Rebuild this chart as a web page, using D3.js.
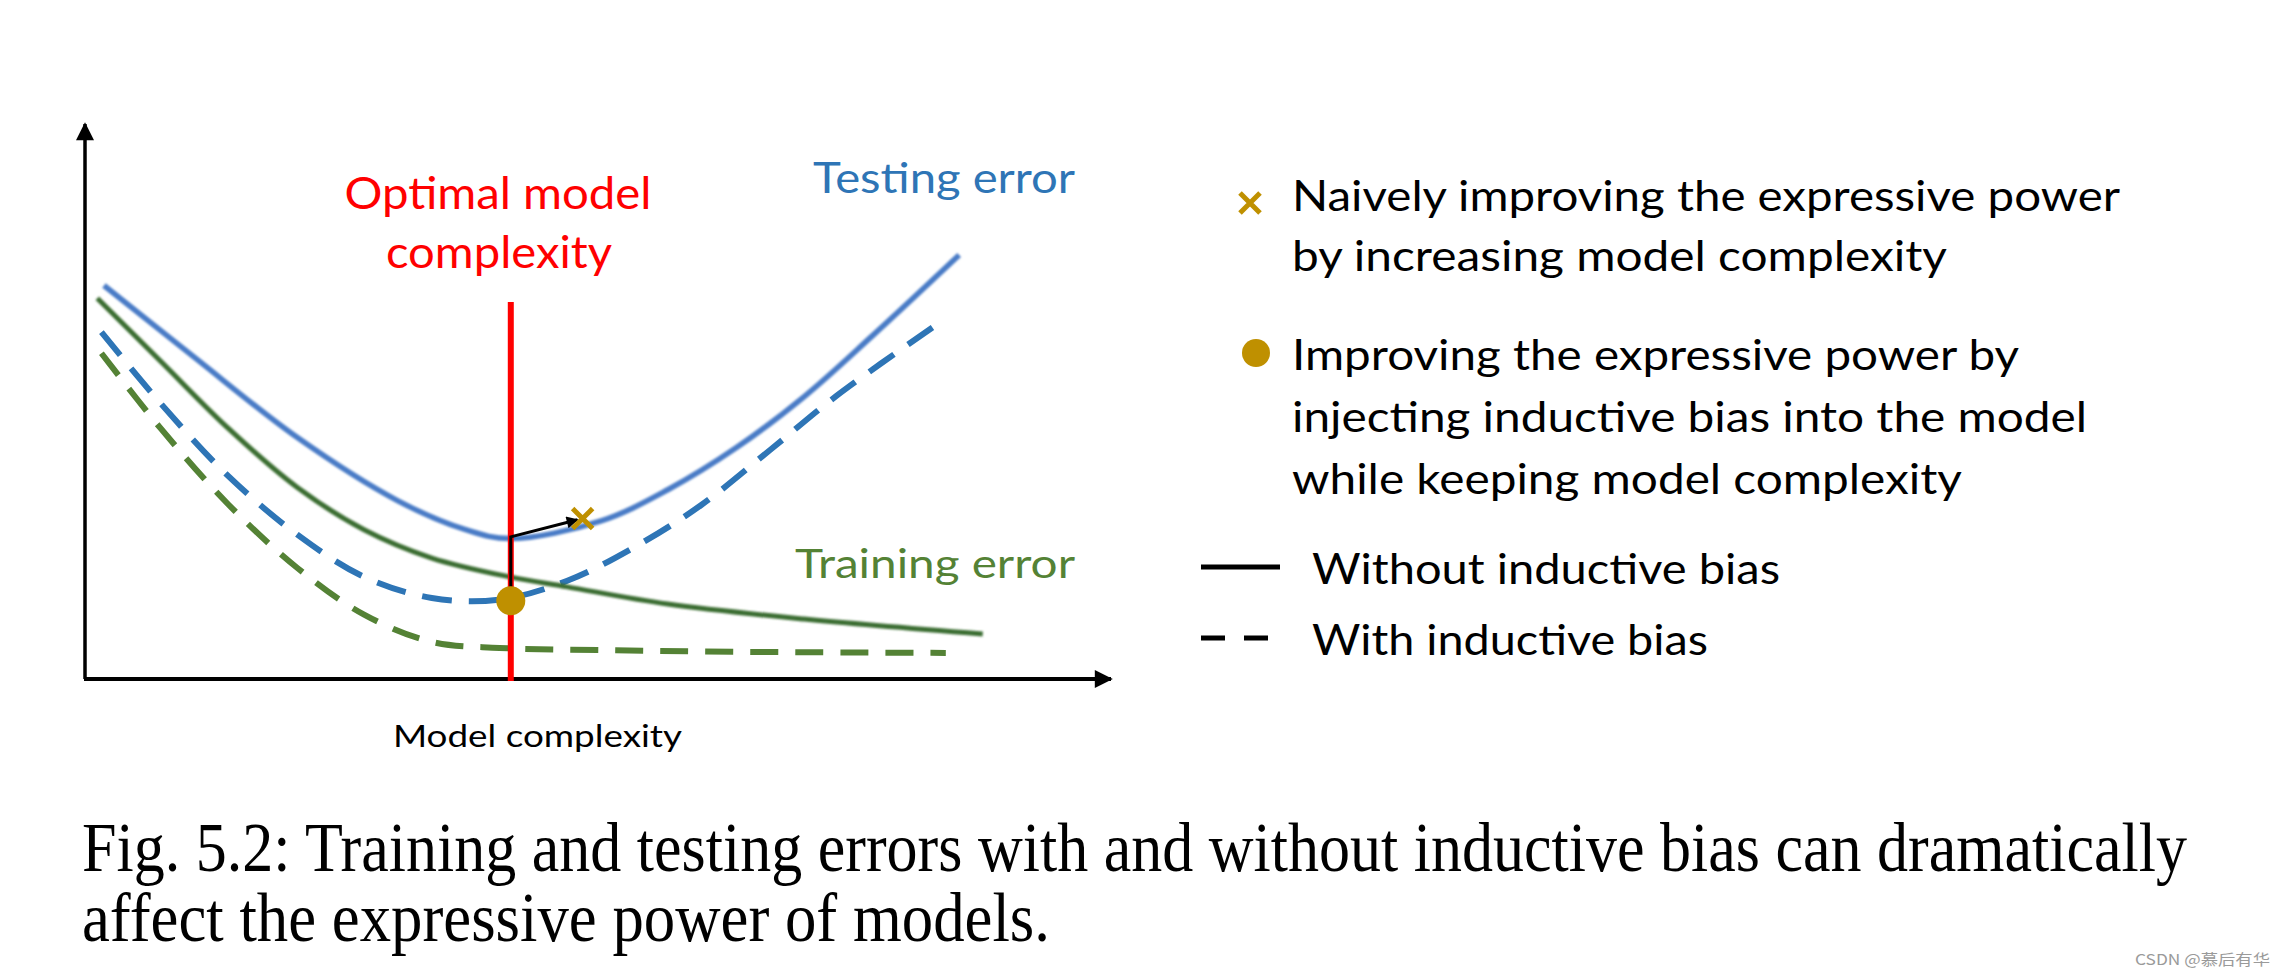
<!DOCTYPE html>
<html>
<head>
<meta charset="utf-8">
<script src="https://cdn.jsdelivr.net/npm/d3@7"></script>
<style>
  html, body { margin: 0; padding: 0; background: #ffffff; }
  svg { display: block; }
</style>
</head>
<body>
<svg id="chart" width="2286" height="976"></svg>
<script>
// ---------------- data (model complexity 0..100, error 0..100) ----------------
const testSolidX  = [1.85, 10.7, 20.7, 30.5, 37.1, 41.4, 50.3, 56.8, 63.5, 70.1, 76.6, 85.2];
const testSolidY  = [70.9, 57.9, 43.5, 32.1, 26.9, 25.3, 28.5, 34.1, 41.7, 50.9, 61.6, 76.4];
const testDashX   = [1.6, 7.4, 14.0, 20.7, 27.2, 33.8, 40.4, 47.0, 53.6, 60.1, 66.8, 73.3, 83.2];
const testDashY   = [62.5, 49.6, 36.5, 26.0, 18.4, 14.6, 14.3, 17.7, 23.8, 31.4, 41.3, 51.1, 64.1];
const trainSolidX = [1.2, 7.4, 14.0, 20.7, 27.2, 33.8, 41.4, 47.0, 56.8, 70.1, 87.5];
const trainSolidY = [68.6, 57.2, 45.1, 34.5, 26.9, 21.8, 18.4, 16.6, 13.5, 10.8, 8.1];
const trainDashX  = [1.6, 7.4, 14.0, 20.7, 27.2, 33.8, 40.4, 50.3, 63.5, 83.9];
const trainDashY  = [58.7, 45.1, 31.4, 20.0, 11.6, 6.7, 5.6, 5.2, 4.9, 4.7];

const optimalX    = 41.5;            // optimal model complexity
const naiveMarker = [48.5, 28.9];    // x marker
const biasMarker  = [41.5, 14.1];    // circle marker
const arrowPts    = [[41.5, 16.6], [41.5, 25.6], [48.0, 28.7]];

const chartLabels = {
  optimal: ["Optimal model", "complexity"],
  testing: "Testing error",
  training: "Training error",
  xAxis: "Model complexity"
};
const legendNaive = ["Naively improving the expressive power", "by increasing model complexity"];
const legendBias  = ["Improving the expressive power by", "injecting inductive bias into the model", "while keeping model complexity"];
const legendSolid = "Without inductive bias";
const legendDash  = "With inductive bias";
const captionLines = ["Fig. 5.2: Training and testing errors with and without inductive bias can dramatically",
                      "affect the expressive power of models."];
const watermark = "CSDN @慕后有华";

// ---------------- drawing ----------------
const svg = d3.select("#chart");
svg.append("rect").attr("width", 2286).attr("height", 976).attr("fill", "#fff");

const x = d3.scaleLinear().domain([0, 100]).range([85, 1111]);
const y = d3.scaleLinear().domain([0, 100]).range([679, 124]);

const GOLD = "#bf9000";
const SANS = "Lato, 'Open Sans', sans-serif";

const defs = svg.append("defs");
defs.append("marker").attr("id", "axisArrow")
  .attr("viewBox", "0 0 10 10").attr("refX", 9).attr("refY", 5)
  .attr("markerUnits", "userSpaceOnUse").attr("markerWidth", 24).attr("markerHeight", 18)
  .attr("orient", "auto")
  .append("path").attr("d", "M0,0 L10,5 L0,10 z").attr("fill", "#000");
defs.append("marker").attr("id", "smallArrow")
  .attr("viewBox", "0 0 10 10").attr("refX", 9).attr("refY", 5)
  .attr("markerUnits", "userSpaceOnUse").attr("markerWidth", 16).attr("markerHeight", 12)
  .attr("orient", "auto")
  .append("path").attr("d", "M0,0 L10,5 L0,10 z").attr("fill", "#000");
defs.append("filter").attr("id", "soft")
  .append("feGaussianBlur").attr("stdDeviation", 0.9);

// axes
svg.append("line")
  .attr("x1", x(0)).attr("y1", y(0)).attr("x2", x(0)).attr("y2", y(100))
  .attr("stroke", "#000").attr("stroke-width", 3.5).attr("marker-end", "url(#axisArrow)");
svg.append("line")
  .attr("x1", x(0) - 1).attr("y1", y(0)).attr("x2", x(100)).attr("y2", y(0))
  .attr("stroke", "#000").attr("stroke-width", 4).attr("marker-end", "url(#axisArrow)");

// curves
const line = d3.line().x(d => x(d[0])).y(d => y(d[1])).curve(d3.curveCatmullRom.alpha(0.5));
const zip = (a, b) => a.map((v, i) => [v, b[i]]);

const series = [
  { pts: zip(trainDashX, trainDashY), color: "#548235", w: 6, dash: "28,17", blur: false },
  { pts: zip(testDashX, testDashY), color: "#2e75b6", w: 6, dash: "30,17", blur: false },
  { pts: zip(trainSolidX, trainSolidY), color: "#3a6d30", w: 5, dash: null, blur: true },
  { pts: zip(testSolidX, testSolidY), color: "#4a7bc6", w: 5.5, dash: null, blur: true }
];
series.forEach(s => {
  const p = svg.append("path").attr("d", line(s.pts))
    .attr("fill", "none").attr("stroke", s.color).attr("stroke-width", s.w);
  if (s.dash) p.attr("stroke-dasharray", s.dash);
  if (s.blur) p.attr("filter", "url(#soft)");
});

// optimal complexity red line
svg.append("line")
  .attr("x1", x(optimalX)).attr("x2", x(optimalX))
  .attr("y1", 302).attr("y2", y(0) + 2)
  .attr("stroke", "#ff0000").attr("stroke-width", 6);

// arrow
svg.append("path")
  .attr("d", d3.line()(arrowPts.map(d => [x(d[0]), y(d[1])])))
  .attr("fill", "none").attr("stroke", "#000").attr("stroke-width", 3)
  .attr("marker-end", "url(#smallArrow)");

// markers
const drawX = (cx, cy, r, w) => {
  svg.append("path")
    .attr("d", `M${cx - r},${cy - r}L${cx + r},${cy + r}M${cx - r},${cy + r}L${cx + r},${cy - r}`)
    .attr("stroke", GOLD).attr("stroke-width", w).attr("fill", "none");
};
drawX(x(naiveMarker[0]), y(naiveMarker[1]), 10, 5);
svg.append("circle").attr("cx", x(biasMarker[0])).attr("cy", y(biasMarker[1]))
  .attr("r", 14.5).attr("fill", GOLD);

// text helper
function txt(t, px, py, size, len, color, anchor, family) {
  const el = svg.append("text").attr("x", px).attr("y", py)
    .attr("font-family", family || SANS).attr("font-size", size)
    .attr("fill", color || "#000").attr("text-anchor", anchor || "start").text(t);
  if (len) el.attr("textLength", len).attr("lengthAdjust", "spacingAndGlyphs");
  return el;
}

// chart labels
txt(chartLabels.optimal[0], 498, 209, 44, 307, "#ff0000", "middle");
txt(chartLabels.optimal[1], 499, 268, 44, 226, "#ff0000", "middle");
txt(chartLabels.testing, 813, 193, 42, 262, "#2e75b6");
txt(chartLabels.training, 795, 578, 41, 280, "#548235");
txt(chartLabels.xAxis, 393, 747, 31, 289, "#000");

// legend
drawX(1250, 203, 10, 5);
txt(legendNaive[0], 1292, 211, 42, 828);
txt(legendNaive[1], 1292, 271, 42, 655);
svg.append("circle").attr("cx", 1256).attr("cy", 353).attr("r", 14).attr("fill", GOLD);
txt(legendBias[0], 1292, 370, 42, 727);
txt(legendBias[1], 1292, 432, 42, 795);
txt(legendBias[2], 1292, 494, 42, 670);
svg.append("line").attr("x1", 1201).attr("x2", 1280).attr("y1", 567).attr("y2", 567)
  .attr("stroke", "#000").attr("stroke-width", 5);
txt(legendSolid, 1312, 584, 42, 468);
svg.append("line").attr("x1", 1201).attr("x2", 1272).attr("y1", 638).attr("y2", 638)
  .attr("stroke", "#000").attr("stroke-width", 5).attr("stroke-dasharray", "24,19");
txt(legendDash, 1312, 655, 42, 396);

// caption
const SERIF = "'Liberation Serif', 'DejaVu Serif', serif";
txt(captionLines[0], 82, 871, 70, 2105, "#000", "start", SERIF);
txt(captionLines[1], 82, 941, 70, 968, "#000", "start", SERIF);

// watermark
txt(watermark, 2135, 965, 15, 135, "#9a9a9a", "start", "'Noto Sans CJK SC', sans-serif");
</script>
</body>
</html>
